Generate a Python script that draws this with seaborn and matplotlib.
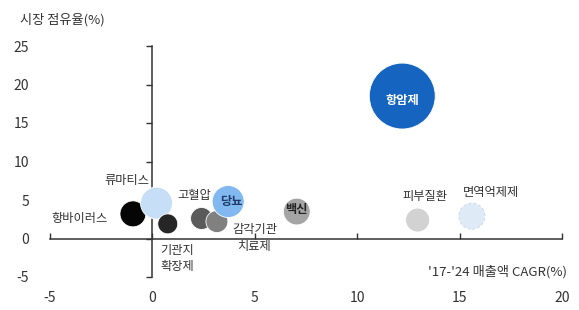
import matplotlib
matplotlib.use("Agg")
import matplotlib.pyplot as plt
import seaborn as sns
import pandas as pd

# ---- data ----
categories = ["항암제", "항바이러스", "류마티스", "기관지\n확장제", "고혈압",
              "감각기관\n치료제", "당뇨", "백신", "피부질환", "면역억제제"]
cagr = [12.2, -0.95, 0.2, 0.75, 2.4, 3.15, 3.7, 7.05, 12.95, 15.6]
share = [18.5, 3.2, 4.6, 1.9, 2.6, 2.2, 4.8, 3.5, 2.4, 2.9]
market_size = [1089, 169, 256, 100, 121, 121, 256, 180, 144, 169]
x_ticks = [-5, 0, 5, 10, 15, 20]
y_ticks = [-5, 0, 5, 10, 15, 20, 25]

colors = ["#1565C0", "#050505", "#C6DFF7", "#262626", "#5A5A5A",
          "#808080", "#80B8EF", "#A5A5A5", "#D2D2D2", "#DFEAF7"]
label_offsets = [(0, -3), (-18, -3.6), (-21, 16.5), (6.5, -25), (-5, 16.5),
                 (27, -12), (2, 0), (0, 1.4), (5, 17), (14, 17)]
label_ha = ["center", "right", "center", "center", "center",
            "center", "center", "center", "center", "center"]
label_colors = ["white", "#333333", "#333333", "#333333", "#333333",
                "#333333", "#1F3A66", "#222222", "#333333", "#333333"]
label_weight = ["bold", "normal", "normal", "normal", "normal",
                "normal", "bold", "bold", "normal", "normal"]

df = pd.DataFrame({"cat": categories, "cagr": cagr, "share": share, "size": market_size})

sns.set_theme(style="white")
plt.rcParams["font.family"] = ["Noto Sans CJK KR", "DejaVu Sans"]
plt.rcParams["axes.unicode_minus"] = False

fig = plt.figure(figsize=(5.79, 3.10), dpi=100)
ax = fig.add_axes([50 / 579, 1 - 277 / 310, (562 - 50) / 579, (277 - 46) / 310])

sns.scatterplot(data=df, x="cagr", y="share", hue="cat", palette=dict(zip(categories, colors)),
                size="size", sizes=(207, 2254), size_norm=(100, 1089),
                edgecolor="white", linewidth=0.6, alpha=1, legend=False, ax=ax, zorder=3)
# dashed outline for the palest bubble
last = df.iloc[[-1]]
sns.scatterplot(data=last, x="cagr", y="share", size="size", sizes=(350, 350),
                facecolor="none", edgecolor="#C9D9EE", linewidth=0.7, linestyle="--",
                legend=False, ax=ax, zorder=4)

ax.set_xlim(-5, 20)
ax.set_ylim(-5, 25)

for sp in ["top", "right"]:
    ax.spines[sp].set_visible(False)
ax.spines["left"].set_position(("data", 0))
ax.spines["bottom"].set_position(("data", 0))
for sp in ["left", "bottom"]:
    ax.spines[sp].set_color("#333333")
    ax.spines[sp].set_linewidth(1.1)
ax.set_xticks(x_ticks)
ax.set_yticks(y_ticks)
ax.tick_params(axis="y", direction="out", length=4, width=1, color="#333333", labelleft=False, left=True)
ax.tick_params(axis="x", direction="in", length=4, width=1, color="#333333", labelbottom=False, bottom=True)
ax.set_xlabel("")
ax.set_ylabel("")

secy = ax.secondary_yaxis("left")
secy.set_yticks(y_ticks)
secy.spines["left"].set_visible(False)
secy.tick_params(length=0, pad=15, labelsize=10, labelcolor="#333333")
secx = ax.secondary_xaxis("bottom")
secx.set_xticks(x_ticks)
secx.spines["bottom"].set_visible(False)
secx.tick_params(length=0, pad=10, labelsize=10, labelcolor="#333333")

for i, cat in enumerate(categories):
    ax.annotate(cat, (cagr[i], share[i]), xytext=label_offsets[i], textcoords="offset points",
                ha=label_ha[i], va="center", fontsize=8.8, color=label_colors[i],
                fontweight=label_weight[i], linespacing=1.35, zorder=5)

fig.text(20 / 579, 1 - 20 / 310, "시장 점유율(%)", ha="left", va="center", fontsize=9.5, color="#333333")
fig.text(567 / 579, 1 - 272 / 310, "'17-'24 매출액 CAGR(%)", ha="right", va="center", fontsize=9.5, color="#333333")

fig.savefig("out.png", dpi=100)
